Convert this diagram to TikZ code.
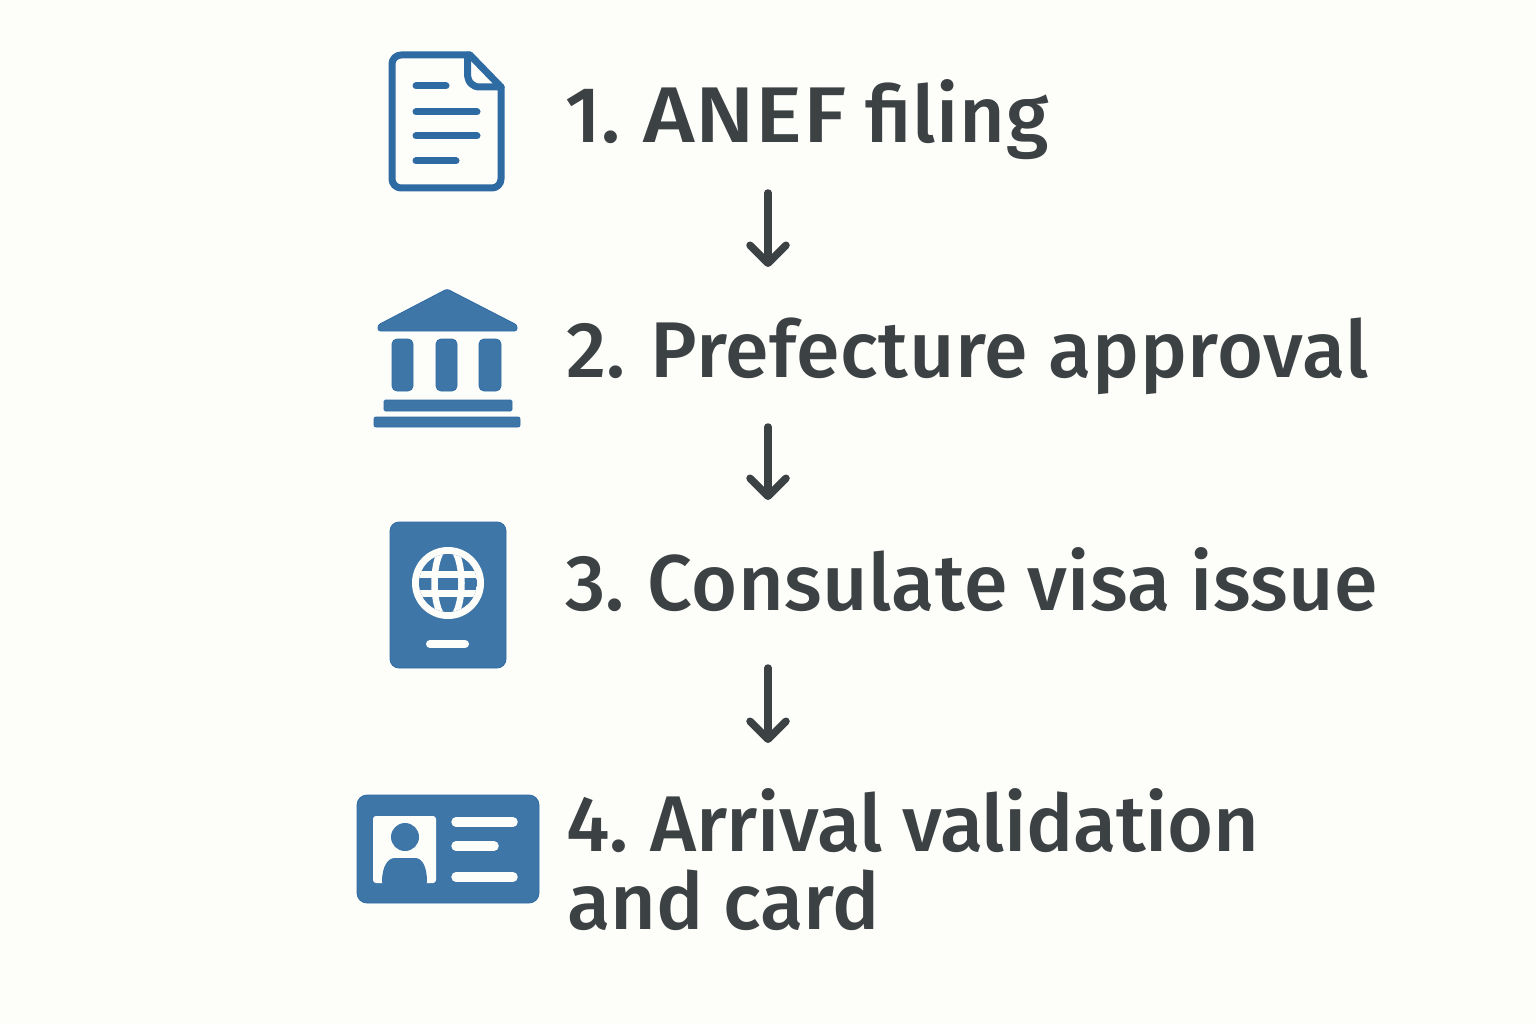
\documentclass[tikz,border=0pt]{standalone}
\usepackage{fontspec}
\setmainfont{Fira Sans Medium}
\usetikzlibrary{arrows.meta}
\definecolor{bgc}{HTML}{FDFDFA}
\definecolor{iconblue}{HTML}{3F76A8}
\definecolor{iconedge}{HTML}{2F6BA3}
\definecolor{ink}{HTML}{3C4144}
\newcommand{\spaced}[1]{\addfontfeatures{LetterSpace=#1}}
\tikzset{
  steptext/.style={anchor=base west,inner sep=0pt,text=ink,font=\fontsize{79}{79}\selectfont},
  flow/.style={draw=ink,line width=7.5pt,line cap=round,line join=round,-{Straight Barb[length=18pt,width=36pt,round]}},
  blueshape/.style={fill=iconblue,draw=iconedge,line width=.8pt,rounded corners=5pt},
  outline/.style={draw=iconedge,line width=7pt,line cap=round,line join=round},
  whitebar/.style={draw=bgc,line cap=round},
}
\begin{document}
\begin{tikzpicture}[x=1pt,y=-1pt]
\fill[bgc] (0,0) rectangle (1536,1024);
\useasboundingbox (0,0) rectangle (1536,1024);
% document icon
\draw[outline,rounded corners=9pt] (470,55) -- (392,55) -- (392,188) -- (501,188) -- (501,87);
\draw[outline] (470,55) -- (501,87);
\draw[outline] (467.5,55) -- (467.5,73) .. controls (467.5,82) and (472,87) .. (480,87) -- (501,87);
\draw[outline] (416,86) -- (446,86);
\draw[outline] (416,112) -- (477,112);
\draw[outline] (416,136) -- (477,136);
\draw[outline] (416,161) -- (456,161);
% bank icon
\draw[blueshape,rounded corners=2.5pt] (447,289) -- (517,325) -- (517,331) -- (378,331) -- (378,325) -- cycle;
\draw[blueshape] (392,339) rectangle (413,391);
\draw[blueshape] (436,339) rectangle (457,391);
\draw[blueshape] (479,339) rectangle (501,391);
\draw[blueshape,rounded corners=1.5pt] (384,400) rectangle (512,411);
\draw[blueshape,rounded corners=2pt] (374,417) rectangle (520,427);
% passport icon
\draw[blueshape,rounded corners=9pt] (390,522) rectangle (506,668);
\fill[bgc] (448,583) circle[radius=36];
\begin{scope}
\clip (448,583) circle[radius=29];
\fill[iconblue] (419,554) rectangle (477,612);
\draw[bgc,line width=6.5pt] (448,583) ellipse[x radius=13.5,y radius=37];
\draw[bgc,line width=6.5pt] (410,574.5) -- (486,574.5);
\draw[bgc,line width=7pt] (410,593.5) -- (486,593.5);
\end{scope}
\draw[whitebar,line width=8pt] (430,644) -- (465,644);
% id card icon
\draw[blueshape,rounded corners=10pt] (357,795) rectangle (539,903);
\fill[bgc,rounded corners=3pt] (373,816) rectangle (436,883);
\fill[iconblue] (405,837) circle[radius=14];
\fill[iconblue,rounded corners=2pt] (382,884) .. controls (382,866) and (388,858) .. (397,858) -- (413,858) .. controls (422,858) and (427,866) .. (427,884) -- cycle;
\draw[whitebar,line width=9.5pt] (456,822) -- (513,822);
\draw[whitebar,line width=9.5pt] (456,846) -- (494,846);
\draw[whitebar,line width=9.5pt] (456,877) -- (513,877);
% text
\node[steptext] (s1) at (565,143) {\spaced{1.0}1.\kern2pt\ \scalebox{1.12}[1]{ANEF}\kern-2pt\ filing};
\node[steptext] (s2) at (566,377) {\spaced{0.8}2.\kern4pt\ Prefecture approval};
\node[steptext] (s3) at (565,610) {\spaced{0.5}3.\kern3pt\ Consulate visa issue};
\node[steptext] (s4) at (566,851) {\spaced{-0.5}4.\kern3pt\ Arrival validation};
\node[steptext] (s4b) at (567,929) {and card};
% arrows
\coordinate (a1) at (768,193); \coordinate (b1) at (768,267);
\coordinate (a2) at (768,427); \coordinate (b2) at (768,500);
\coordinate (a3) at (768,668); \coordinate (b3) at (768,743);
\draw[flow] (a1) -- (b1);
\draw[flow] (a2) -- (b2);
\draw[flow] (a3) -- (b3);
\end{tikzpicture}
\end{document}
